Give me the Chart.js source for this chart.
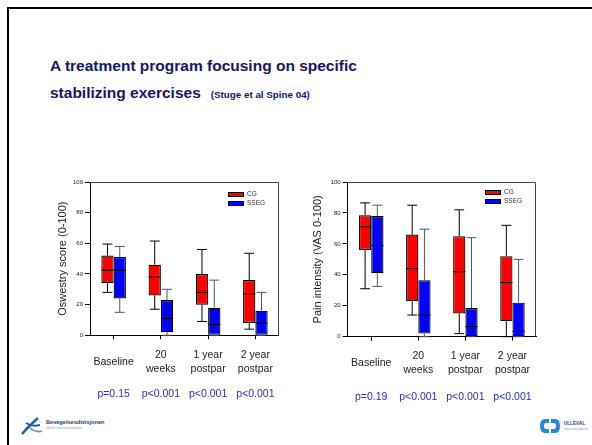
<!DOCTYPE html>
<html>
<head>
<meta charset="utf-8">
<script src="https://cdn.jsdelivr.net/npm/chart.js@4.4.0/dist/chart.umd.min.js"></script>
<style>
  html, body { margin: 0; padding: 0; background: #fff; }
  body { width: 592px; height: 445px; position: relative; overflow: hidden; font-family: "Liberation Sans", Arial, sans-serif; }
  .frame { position: absolute; left: 7px; top: 7px; width: 600px; height: 450px; border-top: 2px solid #000; border-left: 2px solid #000; }
  .title { position: absolute; left: 50px; top: 52px; color: #16166a; font-weight: bold; font-size: 15.5px; line-height: 27px; white-space: nowrap; }
  .title small { font-size: 9.8px; margin-left: 10px; }
  .pv { position: absolute; color: #2c2cc8; font-size: 10.5px; transform: translateX(-50%); white-space: nowrap; }
  canvas { position: absolute; }
  #odiChart { left: 40px; top: 170px; }
  #vasChart { left: 300px; top: 170px; }
  .logo { position: absolute; }
</style>
</head>
<body>
<div class="frame"></div>
<div class="title">A treatment program focusing on specific<br>stabilizing exercises<small>(Stuge et al Spine 04)</small></div>

<canvas id="odiChart" width="250" height="220"></canvas>
<canvas id="vasChart" width="250" height="220"></canvas>

<div id="odiP"></div>
<div id="vasP"></div>

<svg class="logo" style="left:18px;top:414px" width="110" height="22" viewBox="0 0 110 22">
  <path d="M4 20 Q10 13 20 4" stroke="#1f5fa8" stroke-width="2.4" fill="none"/>
  <path d="M8 9 Q14 13 22 11" stroke="#1f5fa8" stroke-width="2" fill="none"/>
  <path d="M12 14 Q18 19 24 17" stroke="#5b8fd0" stroke-width="1.6" fill="none"/>
  <text x="28" y="10" font-size="5.6" font-weight="bold" fill="#243a78" font-family="Liberation Sans, Arial">Bevegelsesdivisjonen</text>
  <text x="28" y="15" font-size="3" fill="#7a9acb" font-family="Liberation Sans, Arial">Ullevål universitetssykehus</text>
</svg>

<svg class="logo" style="left:538px;top:416px" width="52" height="20" viewBox="0 0 52 20">
  <path d="M11 3 H7 Q2 3 2 10 Q2 17 7 17 H11 V13 H8 Q6 13 6 10 Q6 7 8 7 H11 Z" fill="#2b86d6"/>
  <path d="M13 3 H17 Q22 3 22 10 Q22 17 17 17 H13 V13 H16 Q18 13 18 10 Q18 7 16 7 H13 Z" fill="#2b86d6"/>
  <text x="26" y="9" font-size="4.6" font-weight="bold" fill="#243a78" font-family="Liberation Sans, Arial">ULLEVÅL</text>
  <text x="26" y="14" font-size="2.8" fill="#7a9acb" font-family="Liberation Sans, Arial">universitetssykehus</text>
</svg>

<script>
const categories = ['Baseline', ['20', 'weeks'], ['1 year', 'postpar'], ['2 year', 'postpar']];
const groupNames = ['CG', 'SSEG'];

// Oswestry score (0-100)
const odiCgMin = [28, 17, 9, 4];
const odiCgQ1 = [34, 26, 20, 8];
const odiCgMed = [42.5, 38, 28, 27];
const odiCgQ3 = [52, 46, 40, 36];
const odiCgMax = [59.5, 61.5, 56, 53.5];
const odiSsegMin = [15, 0, 0, 0];
const odiSsegQ1 = [24, 2, 0, 0];
const odiSsegMed = [42.5, 11, 7, 8];
const odiSsegQ3 = [51, 23, 18, 16];
const odiSsegMax = [58, 30, 36, 28];
const odiPValues = ['p=0.15', 'p<0.001', 'p<0.001', 'p<0.001'];

// Pain intensity (VAS 0-100)
const vasCgMin = [31, 14, 2, 0];
const vasCgQ1 = [56, 23, 15, 10];
const vasCgMed = [71, 44, 42, 35];
const vasCgQ3 = [78.5, 66, 65, 52];
const vasCgMax = [86.5, 85, 82, 72];
const vasSsegMin = [32.5, 0, 0, 0];
const vasSsegQ1 = [41, 2, 0, 0];
const vasSsegMed = [59, 14, 6.5, 3.5];
const vasSsegQ3 = [78, 36.5, 18.5, 22];
const vasSsegMax = [85, 69.5, 64, 50];
const vasPValues = ['p=0.19', 'p<0.001', 'p<0.001', 'p<0.001'];

const FONT = '"Liberation Sans", Arial, sans-serif';

// whiskers + median drawn on top of the floating bars
const boxWhiskers = {
    id: 'boxWhiskers',
    afterDatasetsDraw(chart) {
        const { ctx } = chart;
        const y = chart.scales.y;
        chart.data.datasets.forEach((ds, di) => {
            chart.getDatasetMeta(di).data.forEach((bar, i) => {
                const half = bar.width / 2;
                const cap = bar.width * 0.4;
                const pMin = y.getPixelForValue(ds.stats.min[i]);
                const pMax = y.getPixelForValue(ds.stats.max[i]);
                const pQ1 = y.getPixelForValue(ds.data[i][0]);
                const pQ3 = y.getPixelForValue(ds.data[i][1]);
                const pMed = y.getPixelForValue(ds.stats.med[i]);
                ctx.save();
                ctx.lineWidth = 1;
                ctx.strokeStyle = ds.whiskerColor;
                ctx.beginPath();
                ctx.moveTo(bar.x, pQ3); ctx.lineTo(bar.x, pMax);
                ctx.moveTo(bar.x - cap, pMax); ctx.lineTo(bar.x + cap, pMax);
                ctx.moveTo(bar.x, pQ1); ctx.lineTo(bar.x, pMin);
                ctx.moveTo(bar.x - cap, pMin); ctx.lineTo(bar.x + cap, pMin);
                ctx.stroke();
                ctx.strokeStyle = '#000';
                ctx.beginPath();
                ctx.moveTo(bar.x - half, pMed); ctx.lineTo(bar.x + half, pMed);
                ctx.stroke();
                ctx.restore();
            });
        });
    }
};

// top/right frame of the plot area and the small legend in its corner
const plotDecor = {
    id: 'plotDecor',
    afterDraw(chart, args, opts) {
        const { ctx, chartArea: a } = chart;
        ctx.save();
        ctx.strokeStyle = '#444';
        ctx.lineWidth = 1;
        ctx.beginPath();
        ctx.moveTo(a.left, a.top + 0.5); ctx.lineTo(a.right - 0.5, a.top + 0.5); ctx.lineTo(a.right - 0.5, a.bottom);
        ctx.stroke();

        const x0 = a.right - opts.right;
        chart.data.datasets.forEach((ds, i) => {
            const y0 = a.top + opts.top + i * 9;
            ctx.fillStyle = ds.backgroundColor;
            ctx.fillRect(x0, y0, 16, 4.5);
            ctx.strokeStyle = '#000';
            ctx.strokeRect(x0 + 0.5, y0 + 0.5, 15, 4);
            ctx.fillStyle = '#333';
            ctx.font = '6.5px ' + FONT;
            ctx.textBaseline = 'middle';
            ctx.fillText(ds.label, x0 + 19, y0 + 2.5);
        });
        ctx.restore();
    }
};

function boxDataset(name, color, whisker, min, q1, med, q3, max) {
    return {
        label: name,
        data: q1.map((v, i) => [v, q3[i]]),
        stats: { min: min, med: med, max: max },
        whiskerColor: whisker,
        backgroundColor: color,
        borderColor: '#000',
        borderWidth: 1.2,
        borderSkipped: false,
        categoryPercentage: 0.52,
        barPercentage: 1
    };
}

function makeChart(id, yTitle, datasets, lay) {
    return new Chart(document.getElementById(id).getContext('2d'), {
        type: 'bar',
        data: { labels: categories, datasets: datasets },
        options: {
            responsive: false,
            animation: false,
            devicePixelRatio: 1,
            layout: { padding: lay.padding },
            plugins: {
                legend: { display: false },
                tooltip: { enabled: false },
                plotDecor: { right: 51, top: lay.legendTop }
            },
            scales: {
                x: {
                    offset: true,
                    grid: { display: true, offset: false, drawOnChartArea: false, tickLength: 4, color: '#000' },
                    border: { color: '#000' },
                    ticks: {
                        crossAlign: 'center', padding: lay.xPad, color: '#222', maxRotation: 0, autoSkip: false,
                        font: { size: 10.5, family: FONT, lineHeight: 1.33 }
                    },
                    afterFit(s) { s.height = lay.xHeight; }
                },
                y: {
                    min: 0, max: 100,
                    grid: { drawOnChartArea: false, tickLength: 5, color: '#000' },
                    border: { color: '#000' },
                    ticks: { stepSize: 20, padding: 2, color: '#222', font: { size: 6, family: FONT } },
                    title: {
                        display: true, text: yTitle, color: '#222',
                        font: { size: 11, family: FONT }, padding: { top: lay.titlePad, bottom: 0 }
                    },
                    afterFit(s) { s.width = lay.yWidth; }
                }
            }
        },
        plugins: [boxWhiskers, plotDecor]
    });
}

const odiChart = makeChart('odiChart', 'Oswestry score (0-100)', [
    boxDataset(groupNames[0], '#ff0000', '#000', odiCgMin, odiCgQ1, odiCgMed, odiCgQ3, odiCgMax),
    boxDataset(groupNames[1], '#0000ff', '#555', odiSsegMin, odiSsegQ1, odiSsegMed, odiSsegQ3, odiSsegMax)
], { padding: { left: 10, right: 9, top: 12, bottom: 10 }, yWidth: 40, xHeight: 44.7, xPad: 16, titlePad: 6.4, legendTop: 10 });

const vasChart = makeChart('vasChart', 'Pain intensity (VAS 0-100)', [
    boxDataset(groupNames[0], '#ff0000', '#000', vasCgMin, vasCgQ1, vasCgMed, vasCgQ3, vasCgMax),
    boxDataset(groupNames[1], '#0000ff', '#555', vasSsegMin, vasSsegQ1, vasSsegMed, vasSsegQ3, vasSsegMax)
], { padding: { left: 5, right: 14, top: 12, bottom: 10 }, yWidth: 42.7, xHeight: 43.3, xPad: 15, titlePad: 5.9, legendTop: 8 });

// p-values under each category, placed with the chart's own x scale
function placePValues(chart, canvasLeft, top, values, holderId) {
    const holder = document.getElementById(holderId);
    values.forEach((txt, i) => {
        const el = document.createElement('div');
        el.className = 'pv';
        el.textContent = txt;
        el.style.left = (canvasLeft + chart.scales.x.getPixelForValue(i)) + 'px';
        el.style.top = top + 'px';
        holder.appendChild(el);
    });
}
placePValues(odiChart, 40, 387, odiPValues, 'odiP');
placePValues(vasChart, 300, 390, vasPValues, 'vasP');
</script>
</body>
</html>
